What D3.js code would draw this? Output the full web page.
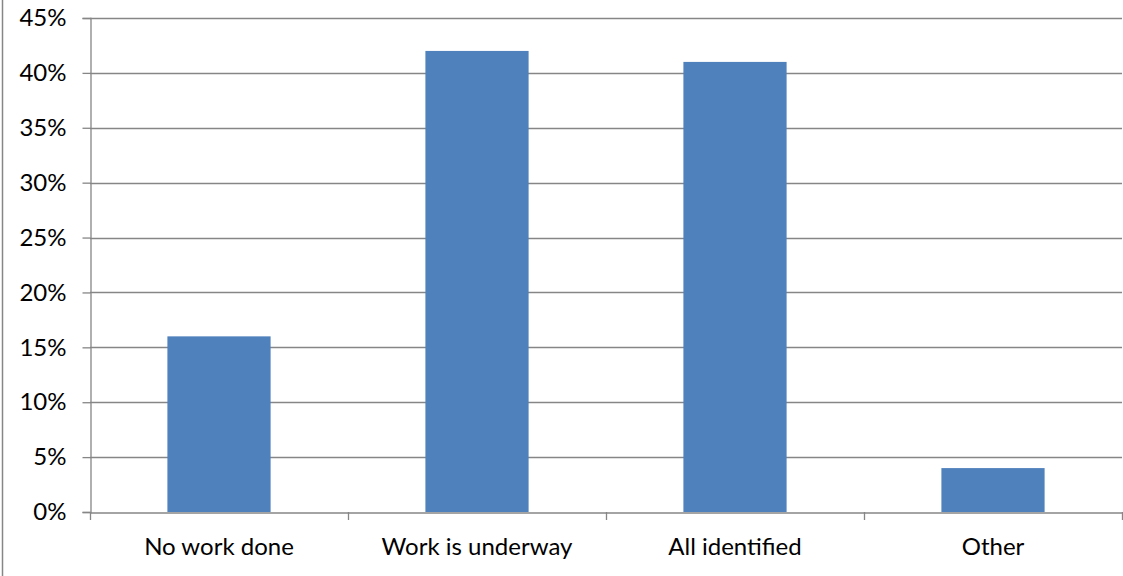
<!DOCTYPE html>
<html>
<head>
<meta charset="utf-8">
<script src="https://cdn.jsdelivr.net/npm/d3@7"></script>
<style>
  body { margin: 0; background: #fff; }
  svg { display: block; }
</style>
</head>
<body>
<svg id="chart" width="1123" height="576"></svg>
<script>
const categories = ['No work done', 'Work is underway', 'All identified', 'Other'];
const values = [0.16, 0.42, 0.41, 0.04];
const yTicks = [0, 0.05, 0.1, 0.15, 0.2, 0.25, 0.3, 0.35, 0.4, 0.45];

const font = 'Lato, "Open Sans", sans-serif';
const svg = d3.select('#chart');
const plot = { left: 90, right: 1122, top: 18, bottom: 512 };

// frame line on the left edge
svg.append('line')
    .attr('x1', 2.5).attr('x2', 2.5)
    .attr('y1', 0).attr('y2', 576)
    .attr('stroke', '#868686').attr('stroke-width', 1.5);

const x = d3.scaleBand()
    .domain(categories)
    .range([plot.left, plot.right]);

const y = d3.scaleLinear()
    .domain([0, 0.45])
    .range([plot.bottom, plot.top]);

// gridlines
svg.append('g')
  .selectAll('line')
  .data(yTicks.filter(d => d > 0))
  .join('line')
    .attr('x1', plot.left).attr('x2', plot.right)
    .attr('y1', d => Math.round(y(d)) + 0.5)
    .attr('y2', d => Math.round(y(d)) + 0.5)
    .attr('stroke', '#868686').attr('stroke-width', 1.3);

// bars
const bw = x.bandwidth() * 0.4;
svg.append('g')
  .selectAll('rect')
  .data(values)
  .join('rect')
    .attr('x', (d, i) => x(categories[i]) + (x.bandwidth() - bw) / 2)
    .attr('y', d => y(d))
    .attr('width', bw)
    .attr('height', d => y(0) - y(d))
    .attr('fill', '#4F81BD');

// y axis
const yAxis = svg.append('g')
    .attr('transform', `translate(${plot.left + 0.5},0)`)
    .call(d3.axisLeft(y).tickValues(yTicks).tickFormat(d3.format('.0%')).tickSize(8).tickPadding(16))
    .attr('font-family', font).attr('font-size', 24);
yAxis.select('.domain').attr('stroke', '#868686').attr('stroke-width', 1.3);
yAxis.selectAll('.tick line').attr('stroke', '#868686').attr('stroke-width', 1.3);
yAxis.selectAll('.tick text').attr('fill', '#000');

// x axis
const xAxis = svg.append('g')
    .attr('transform', `translate(0,${plot.bottom + 0.5})`)
    .call(d3.axisBottom(x).tickSize(0).tickPadding(25))
    .attr('font-family', font).attr('font-size', 24);
xAxis.select('.domain').attr('stroke', '#868686').attr('stroke-width', 1.3);
xAxis.selectAll('.tick text').attr('fill', '#000');

// category dividers
svg.append('g')
  .selectAll('line')
  .data([...categories.map(c => x(c)), plot.right])
  .join('line')
    .attr('x1', d => Math.round(d) + 0.5).attr('x2', d => Math.round(d) + 0.5)
    .attr('y1', plot.bottom).attr('y2', plot.bottom + 8)
    .attr('stroke', '#868686').attr('stroke-width', 1.3);
</script>
</body>
</html>
